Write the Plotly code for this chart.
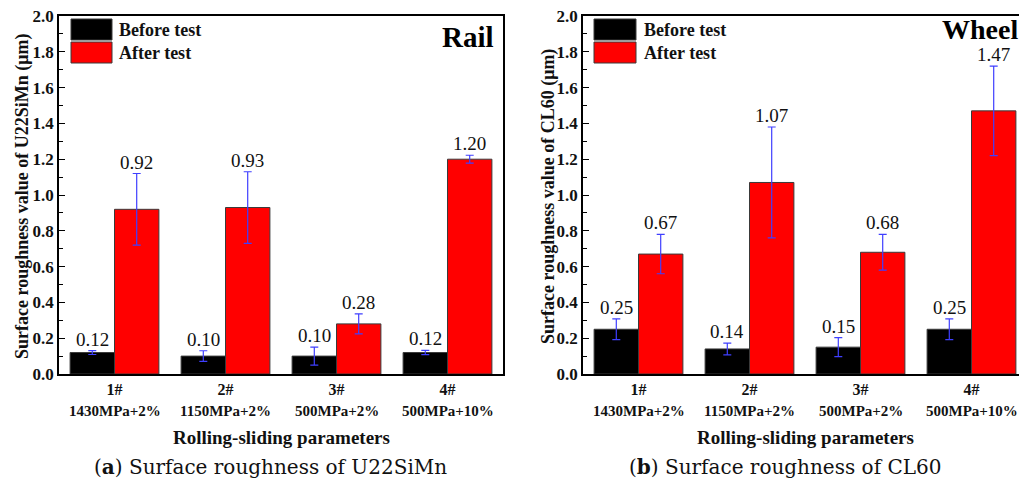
import plotly.graph_objects as go

# Test groups and their rolling-sliding conditions
categories = ["1#", "2#", "3#", "4#"]
params = ["1430MPa+2%", "1150MPa+2%", "500MPa+2%", "500MPa+10%"]
value_ticks = [0.0, 0.2, 0.4, 0.6, 0.8, 1.0, 1.2, 1.4, 1.6, 1.8, 2.0]

# Surface roughness of the rail (U22SiMn), µm
rail_before = [0.12, 0.10, 0.10, 0.12]
rail_before_err = [0.011, 0.030, 0.050, 0.012]
rail_after = [0.92, 0.93, 0.28, 1.20]
rail_after_err = [0.200, 0.200, 0.056, 0.022]

# Surface roughness of the wheel (CL60), µm
wheel_before = [0.25, 0.14, 0.15, 0.25]
wheel_before_err = [0.058, 0.033, 0.053, 0.058]
wheel_after = [0.67, 1.07, 0.68, 1.47]
wheel_after_err = [0.110, 0.310, 0.100, 0.250]

W, H = 1019, 482
SERIF = "Liberation Serif"
CAPTION_FONT = "DejaVu Serif"
BAR_GAP = 0.2


def px(x):
    return x / W


def py(y):
    return 1 - y / H


fig = go.Figure()

panels = [
    dict(xa="x", ya="y", before=rail_before, before_err=rail_before_err,
         after=rail_after, after_err=rail_after_err),
    dict(xa="x2", ya="y2", before=wheel_before, before_err=wheel_before_err,
         after=wheel_after, after_err=wheel_after_err),
]

idx = list(range(len(categories)))
bar_w = (1 - BAR_GAP) / 2
annotations = []

for p in panels:
    for name, vals, errs, color, off in [
        ("Before test", p["before"], p["before_err"], "#000000", -bar_w / 2),
        ("After test", p["after"], p["after_err"], "#ff0000", bar_w / 2),
    ]:
        fig.add_trace(go.Bar(
            x=idx, y=vals, name=name, xaxis=p["xa"], yaxis=p["ya"],
            marker=dict(color=color, line=dict(color="#3a3a3a", width=1)),
            error_y=dict(type="data", array=errs, visible=True,
                         color="#3f3fff", thickness=1.2, width=4),
            showlegend=False,
        ))
        # value labels sit just above the error bar caps
        for i, v, e in zip(idx, vals, errs):
            annotations.append(dict(
                x=i + off, y=v + e, xref=p["xa"], yref=p["ya"],
                text=f"{v:.2f}", showarrow=False, yanchor="bottom",
                yshift=-1, font=dict(family=SERIF, size=19, color="#111"),
            ))
    # second line of the category labels
    for i, t in zip(idx, params):
        annotations.append(dict(
            x=i, y=py(411), xref=p["xa"], yref="paper", text=t,
            showarrow=False, yanchor="middle",
            font=dict(family=SERIF, size=15, color="#111", weight="bold"),
        ))

axis_common = dict(
    showline=True, linecolor="#000", linewidth=1.5,
    showgrid=False, zeroline=False, automargin=False,
)
yaxis_common = dict(
    axis_common, range=[0, 2.0], tickvals=value_ticks, tickformat=".1f",
    ticks="inside", ticklen=6, tickwidth=1.2, tickcolor="#000",
    minor=dict(ticks="inside", ticklen=4, tickwidth=1.2, dtick=0.1,
               tickcolor="#000"),
    tickfont=dict(family=SERIF, size=17, color="#111", weight="bold"),
)
xaxis_common = dict(
    axis_common, tickvals=idx, ticktext=categories, ticks="",
    ticklabelstandoff=0,
    tickfont=dict(family=SERIF, size=16, color="#111", weight="bold"),
)

fig.update_layout(
    width=W, height=H, autosize=False,
    margin=dict(l=0, r=0, t=0, b=0, pad=0),
    paper_bgcolor="#ffffff", plot_bgcolor="#ffffff",
    barmode="group", bargap=BAR_GAP, bargroupgap=0,
    xaxis=dict(xaxis_common, domain=[px(59), px(503)], range=[-0.5, 3.5],
               mirror=True, anchor="y"),
    yaxis=dict(yaxis_common, domain=[py(374), py(16)], mirror=True,
               anchor="x"),
    xaxis2=dict(xaxis_common, domain=[px(583), 1.0],
                range=[-0.5, -0.5 + (W - 583) / 111.0], mirror=True,
                anchor="y2"),
    yaxis2=dict(yaxis_common, domain=[py(374), py(16)], mirror=False,
                anchor="x2"),
)

# legends, drawn as large swatches with labels
shapes = []
for lx0, lx1, tx in [(71, 112, 117), (594, 636, 642)]:
    for (y0, y1, color, label) in [(19, 40, "#000000", "Before test"),
                                   (42, 63, "#ff0000", "After test")]:
        shapes.append(dict(type="rect", xref="paper", yref="paper",
                           x0=px(lx0), x1=px(lx1), y0=py(y1), y1=py(y0),
                           fillcolor=color, line=dict(color="#3a3a3a", width=1)))
        annotations.append(dict(
            x=px(tx), y=py((y0 + y1) / 2), xref="paper", yref="paper",
            text=label, showarrow=False, xanchor="left", yanchor="middle",
            font=dict(family=SERIF, size=18, color="#111", weight="bold"),
        ))

# panel tags
annotations.append(dict(x=px(496), y=py(37), xref="paper", yref="paper",
                        text="Rail", showarrow=False, xanchor="right",
                        yanchor="middle",
                        font=dict(family=SERIF, size=29, color="#000",
                                  weight="bold")))
annotations.append(dict(x=px(940), y=py(29), xref="paper", yref="paper",
                        text="Wheel", showarrow=False, xanchor="left",
                        yanchor="middle",
                        font=dict(family=SERIF, size=28, color="#000",
                                  weight="bold")))

# axis titles
for x, t in [(22, "Surface roughness value of U22SiMn (μm)"),
             (548, "Surface roughness value of CL60 (μm)")]:
    annotations.append(dict(x=px(x), y=py(197), xref="paper", yref="paper",
                            text=t, textangle=-90, showarrow=False,
                            xanchor="center", yanchor="middle",
                            font=dict(family=SERIF, size=18, color="#111",
                                      weight="bold")))
for x in [281, 805]:
    annotations.append(dict(x=px(x), y=py(437), xref="paper", yref="paper",
                            text="Rolling-sliding parameters", showarrow=False,
                            xanchor="center", yanchor="middle",
                            font=dict(family=SERIF, size=19, color="#111",
                                      weight="bold")))

# captions
for x, t in [(270, "(<b>a</b>) Surface roughness of U22SiMn"),
             (785, "(<b>b</b>) Surface roughness of CL60")]:
    annotations.append(dict(x=px(x), y=py(467), xref="paper", yref="paper",
                            text=t, showarrow=False, xanchor="center",
                            yanchor="middle",
                            font=dict(family=CAPTION_FONT, size=20,
                                      color="#111")))

fig.update_layout(shapes=shapes, annotations=annotations)
fig.write_html("out.html")

# keep the page flush with the window so the figure is not offset
with open("out.html", encoding="utf-8") as f:
    page = f.read()
page = page.replace(
    "<head>",
    "<head><style>html,body{margin:0;padding:0;overflow:hidden;}</style>", 1)
with open("out.html", "w", encoding="utf-8") as f:
    f.write(page)
